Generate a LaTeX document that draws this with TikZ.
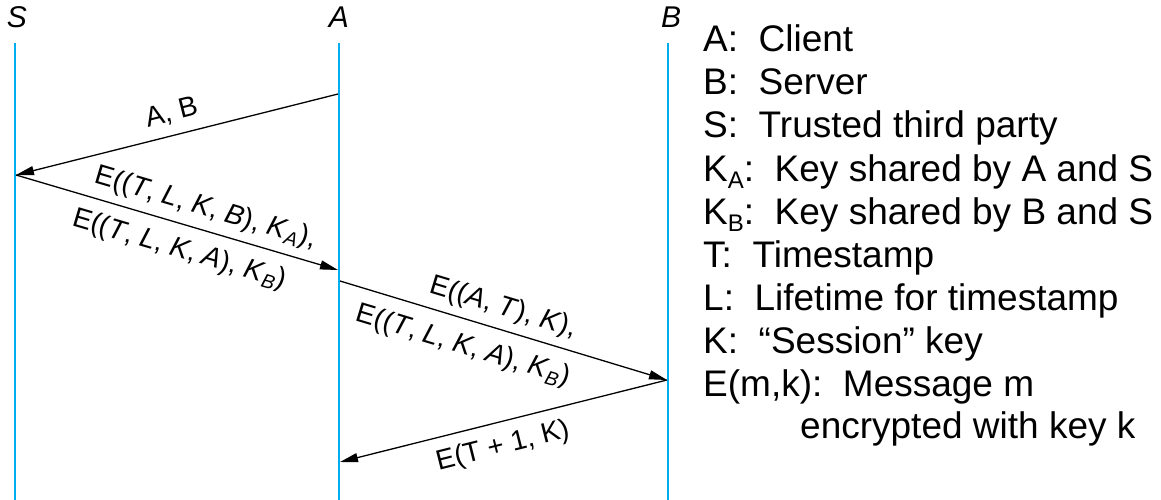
\documentclass[tikz,border=0pt]{standalone}
\usepackage{fontspec}
\setmainfont{Liberation Sans}
\usetikzlibrary{arrows.meta}
\definecolor{lifeblue}{RGB}{0,174,239}
\newcommand{\vr}[1]{\textit{#1}}
\newcommand{\keysub}[1]{\raisebox{-0.2em}{\fontsize{24}{24}\selectfont #1}}
\tikzset{
  lifeline/.style={draw=lifeblue, line width=2.4pt},
  msg/.style={draw=black, line width=1.3pt, -{Triangle[length=18pt,width=9pt]}},
  party/.style={font=\fontsize{30}{32}\selectfont\itshape, inner sep=0pt, anchor=base},
  msglbl/.style={font=\fontsize{28}{30}\selectfont, sloped, inner sep=3pt},
  legend/.style={font=\fontsize{37}{40}\selectfont, anchor=base west, inner sep=0pt},
}
\begin{document}
\begin{tikzpicture}[x=1pt, y=-1pt]
  \useasboundingbox (0,0) rectangle (1161,500);

  % party names
  \node[party] (S) at (17,28) {S};
  \node[party] (A) at (339,28) {A};
  \node[party] (B) at (671,28) {B};

  % lifelines
  \coordinate (Stop) at (15,43);   \coordinate (Sbot) at (15,500);
  \coordinate (Atop) at (339,43);  \coordinate (Abot) at (339,500);
  \coordinate (Btop) at (668,43);  \coordinate (Bbot) at (668,500);
  \draw[lifeline] (Stop) -- (Sbot);
  \draw[lifeline] (Atop) -- (Abot);
  \draw[lifeline] (Btop) -- (Bbot);

  % message end points on the lifelines
  \coordinate (a1) at (338,94);
  \coordinate (s1) at (16,175);
  \coordinate (s2) at (16,175);
  \coordinate (a2) at (338,270);
  \coordinate (a3) at (340,281);
  \coordinate (b3) at (667,380);
  \coordinate (b4) at (667,380);
  \coordinate (a4) at (340,462);

  % messages
  \draw[msg] (a1) -- node[msglbl, above=7pt, pos=0.5] {A, B} (s1);
  \draw[msg] (s2) --
    node[msglbl, above=5pt, pos=0.57] {E((\vr{T}, \vr{L}, \vr{K}, \vr{B}), \vr{K}\textsubscript{\vr{A}}),}
    node[msglbl, below=9pt, pos=0.53] {E((\vr{T}, \vr{L}, \vr{K}, \vr{A}), \vr{K}\textsubscript{\vr{B}})}
    (a2);
  \draw[msg] (a3) --
    node[msglbl, above=5pt, pos=0.48] {E((\vr{A}, \vr{T}), \vr{K}),}
    node[msglbl, below=10pt, pos=0.40] {E((\vr{T}, \vr{L}, \vr{K}, \vr{A}), \vr{K}\textsubscript{\vr{B}})}
    (b3);
  \draw[msg] (b4) -- node[msglbl, below=8pt, pos=0.52] {E(T + 1, K)} (a4);

  % legend
  \node[legend] (l1) at (703,52)  {A:\ \ Client};
  \node[legend] (l2) at (703,95)  {B:\ \ Server};
  \node[legend] (l3) at (703,138) {S:\ \ Trusted third party};
  \node[legend] (l4) at (703,181) {K\keysub{A}:\ \ Key shared by A and S};
  \node[legend] (l5) at (703,224) {K\keysub{B}:\ \ Key shared by B and S};
  \node[legend] (l6) at (703,267) {T:\ \ Timestamp};
  \node[legend] (l7) at (703,310) {L:\ \ Lifetime for timestamp};
  \node[legend] (l8) at (703,353) {K:\ \ “Session” key};
  \node[legend] (l9) at (703,396) {E(m,k):\ \ Message m};
  \node[legend] (l10) at (800,438) {encrypted with key k};
\end{tikzpicture}
\end{document}
